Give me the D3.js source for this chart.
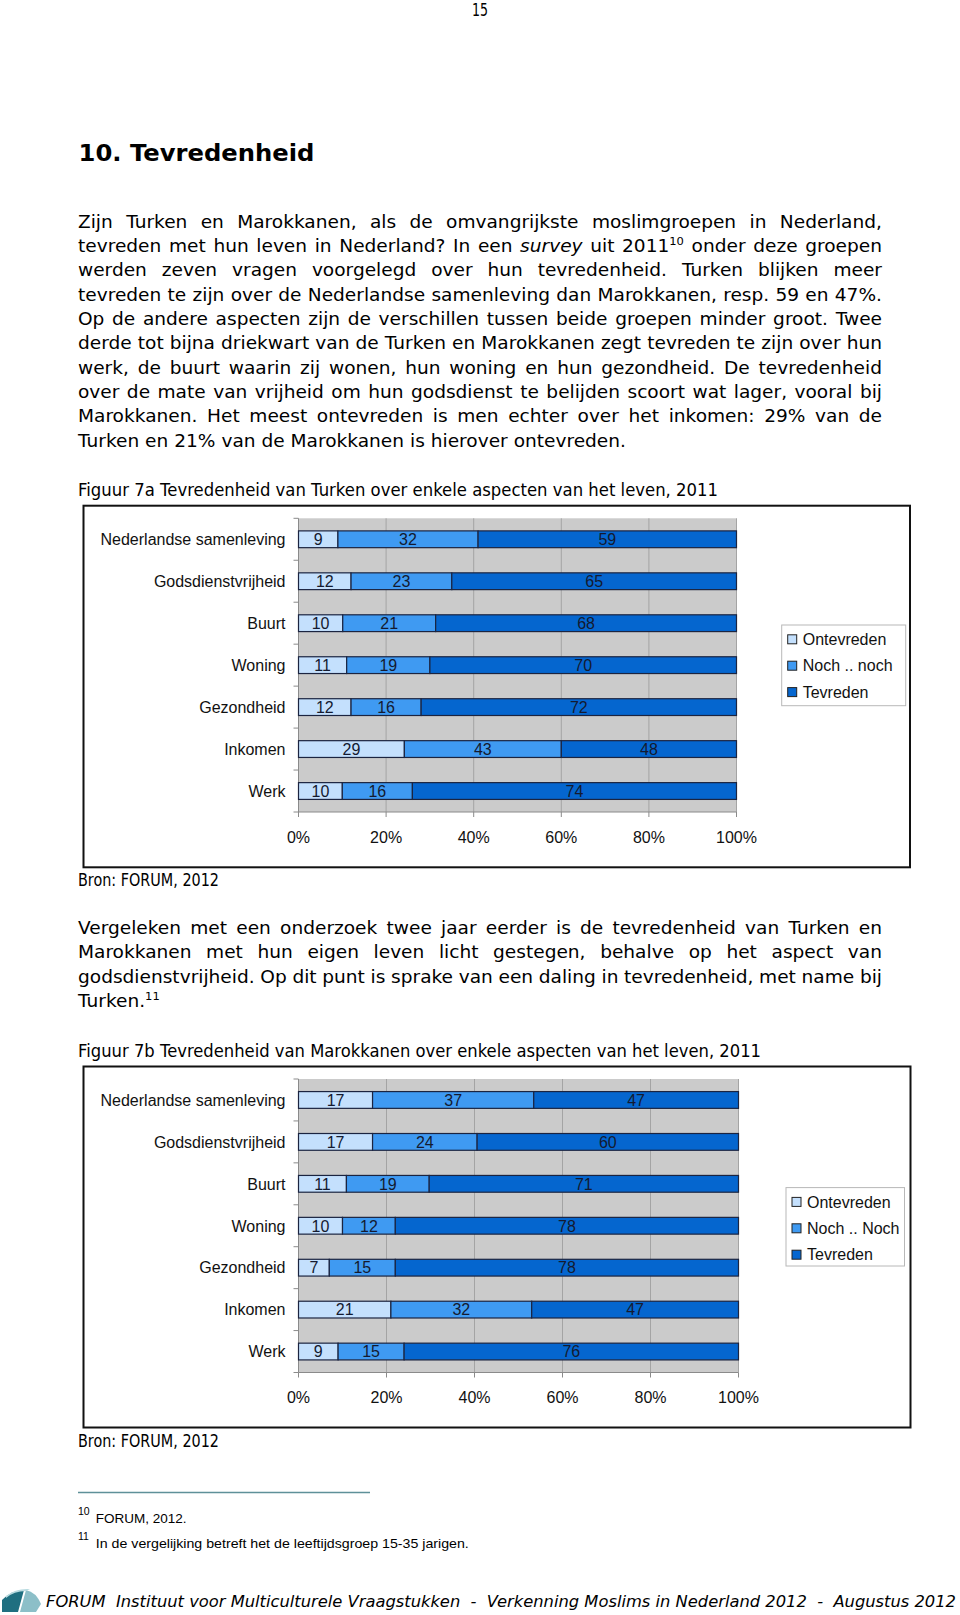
<!DOCTYPE html>
<html><head><meta charset="utf-8">
<script src="https://cdn.jsdelivr.net/npm/d3@7"></script>
<style>body{margin:0;background:#fff} svg{display:block}</style>
</head><body>
<svg id="page" width="960" height="1615"></svg>
<script>
// ---------- DATA ----------
const categories = ["Nederlandse samenleving","Godsdienstvrijheid","Buurt","Woning","Gezondheid","Inkomen","Werk"];
const seriesKeys = ["ontevreden","noch","tevreden"];
const legendNamesA = ["Ontevreden","Noch .. noch","Tevreden"];
const legendNamesB = ["Ontevreden","Noch .. Noch","Tevreden"];
const turkenOntevreden = [9,12,10,11,12,29,10];
const turkenNoch       = [32,23,21,19,16,43,16];
const turkenTevreden   = [59,65,68,70,72,48,74];
const marokOntevreden  = [17,17,11,10,7,21,9];
const marokNoch        = [37,24,19,12,15,32,15];
const marokTevreden    = [47,60,71,78,78,47,76];
const tickValues = [0,0.2,0.4,0.6,0.8,1];
const tickLabels = ["0%","20%","40%","60%","80%","100%"];

const para1 = [
 "Zijn Turken en Marokkanen, als de omvangrijkste moslimgroepen in Nederland,",
 "tevreden met hun leven in Nederland? In een _survey_ uit 2011^10 onder deze groepen",
 "werden zeven vragen voorgelegd over hun tevredenheid. Turken blijken meer",
 "tevreden te zijn over de Nederlandse samenleving dan Marokkanen, resp. 59 en 47%.",
 "Op de andere aspecten zijn de verschillen tussen beide groepen minder groot. Twee",
 "derde tot bijna driekwart van de Turken en Marokkanen zegt tevreden te zijn over hun",
 "werk, de buurt waarin zij wonen, hun woning en hun gezondheid. De tevredenheid",
 "over de mate van vrijheid om hun godsdienst te belijden scoort wat lager, vooral bij",
 "Marokkanen. Het meest ontevreden is men echter over het inkomen: 29% van de",
 "Turken en 21% van de Marokkanen is hierover ontevreden."
];
const para2 = [
 "Vergeleken met een onderzoek twee jaar eerder is de tevredenheid van Turken en",
 "Marokkanen met hun eigen leven licht gestegen, behalve op het aspect van",
 "godsdienstvrijheid. Op dit punt is sprake van een daling in tevredenheid, met name bij",
 "Turken.^11"
];

// ---------- SETUP ----------
const svg = d3.select("#page");
svg.append("rect").attr("width",960).attr("height",1615).attr("fill","#fff");
const bodyFont = "'DejaVu Sans', Verdana, sans-serif";
const chartFont = "'Liberation Sans', Arial, sans-serif";
const BODY_FS = 17.5;

function makeWord(g, w) {
  const t = g.append("text");
  let italic = false;
  if (w.startsWith("_") && w.endsWith("_")) { italic = true; w = w.slice(1,-1); }
  if (italic) t.attr("font-style","italic");
  const parts = w.split("^");
  t.append("tspan").text(parts[0]);
  if (parts.length > 1) {
    t.append("tspan").attr("font-size", BODY_FS*0.62).attr("dy", -7).text(parts[1]);
  }
  return t;
}

function measure(g, s) {
  const t = g.append("text").text(s);
  const w = t.node().getComputedTextLength();
  t.remove();
  return w;
}

const bodyG = svg.append("g").attr("font-family", bodyFont).attr("font-size", BODY_FS).attr("fill","#000");
const spaceW = measure(bodyG, "a a") - measure(bodyG, "aa");
// horizontal scale so the last (natural) line of paragraph 1 matches its width in the reference
const lastWords = para1[para1.length-1].split(" ");
const natW = lastWords.reduce((s,w)=>s+measure(bodyG,w),0) + spaceW*(lastWords.length-1);
const SX = 548 / natW;

function paragraph(lines, x0, x1, yBase, lh) {
  lines.forEach((line, i) => {
    const y = yBase + i*lh;
    const words = line.split(" ");
    const els = words.map(w => makeWord(bodyG, w));
    const widths = els.map(e => e.node().getComputedTextLength()*SX);
    const sum = d3.sum(widths);
    const last = i === lines.length-1;
    const gap = (last || words.length < 2) ? spaceW*SX : (x1 - x0 - sum)/(words.length-1);
    let x = x0;
    els.forEach((e,k) => {
      e.attr("transform", `translate(${x},${y}) scale(${SX},1)`);
      x += widths[k] + gap;
    });
  });
}

function fitLine(text, x, y, width, opts={}) {
  const t = svg.append("text").attr("x", x).attr("y", y)
    .attr("font-family", opts.font || bodyFont)
    .attr("font-size", opts.size || BODY_FS)
    .attr("font-weight", opts.weight || "normal")
    .attr("font-style", opts.style || "normal")
    .attr("fill", opts.fill || "#000")
    .attr("text-anchor", opts.anchor || "start")
    .style("white-space","pre")
    .text(text);
  if (width) t.attr("textLength", width).attr("lengthAdjust","spacingAndGlyphs");
  return t;
}

// ---------- PAGE TEXT ----------
fitLine("15", 480, 16, 16, {size:17, anchor:"middle"});
fitLine("10. Tevredenheid", 78.5, 161, 236, {size:23.5, weight:"bold"});
paragraph(para1, 78, 882, 227.5, 24.37);
fitLine("Figuur 7a Tevredenheid van Turken over enkele aspecten van het leven, 2011", 78, 496, 640);
fitLine("Bron: FORUM, 2012", 78, 886, 141);
paragraph(para2, 78, 882, 934, 24.4);
fitLine("Figuur 7b Tevredenheid van Marokkanen over enkele aspecten van het leven, 2011", 78, 1056.5, 683);
fitLine("Bron: FORUM, 2012", 78, 1446.5, 141);

// ---------- CHARTS ----------
const colors = ["#c4e0fd","#3f9af2","#0566cf"];

function buildRows(a,b,c) {
  return categories.map((cat,i)=>({cat, ontevreden:a[i], noch:b[i], tevreden:c[i]}));
}

function chart(cfg) {
  const g = svg.append("g").attr("font-family", chartFont);
  g.append("rect").attr("x",cfg.box[0]).attr("y",cfg.box[1])
    .attr("width",cfg.box[2]-cfg.box[0]).attr("height",cfg.box[3]-cfg.box[1])
    .attr("fill","#fff").attr("stroke","#111").attr("stroke-width",2);

  const x = d3.scaleLinear().domain([0,1]).range([cfg.plot[0], cfg.plot[2]]);
  const y = d3.scaleBand().domain(categories).range([cfg.plot[1], cfg.plot[3]])
    .paddingInner(0.6).paddingOuter(0.3);

  g.append("rect").attr("x",x(0)).attr("y",cfg.plot[1])
    .attr("width",x(1)-x(0)).attr("height",cfg.plot[3]-cfg.plot[1]).attr("fill","#cbcbcb");
  g.selectAll(".grid").data(tickValues.slice(1)).join("line")
    .attr("x1",d=>x(d)).attr("x2",d=>x(d)).attr("y1",cfg.plot[1]).attr("y2",cfg.plot[3])
    .attr("stroke","#a4a4a4").attr("stroke-width",1);

  // left axis with ticks at category boundaries
  const step = y.step();
  const bounds = d3.range(categories.length+1).map(k => cfg.plot[1] + k*step);
  g.append("line").attr("x1",x(0)).attr("x2",x(0)).attr("y1",cfg.plot[1]).attr("y2",cfg.plot[3])
    .attr("stroke","#8a8a8a");
  g.selectAll(".ytick").data(bounds).join("line")
    .attr("x1",x(0)-5).attr("x2",x(0)).attr("y1",d=>d).attr("y2",d=>d).attr("stroke","#8a8a8a");
  g.append("line").attr("x1",x(0)).attr("x2",x(1)).attr("y1",cfg.plot[3]).attr("y2",cfg.plot[3])
    .attr("stroke","#8a8a8a");
  g.selectAll(".xtick").data(tickValues).join("line")
    .attr("x1",d=>x(d)).attr("x2",d=>x(d)).attr("y1",cfg.plot[3]).attr("y2",cfg.plot[3]+5)
    .attr("stroke","#8a8a8a");

  // category labels
  g.selectAll(".cat").data(categories).join("text")
    .attr("x", x(0)-13).attr("y", d=>y(d)+y.bandwidth()/2).attr("dy","0.36em")
    .attr("text-anchor","end").attr("font-size",16).attr("fill","#111").text(d=>d);

  // x tick labels
  g.selectAll(".xl").data(tickValues).join("text")
    .attr("x",d=>x(d)).attr("y",cfg.plot[3]+25).attr("dy","0.36em")
    .attr("text-anchor","middle").attr("font-size",16).attr("fill","#111")
    .text((d,i)=>tickLabels[i]);

  // stacked bars (100% stacked)
  const stack = d3.stack().keys(seriesKeys).offset(d3.stackOffsetExpand);
  const series = stack(cfg.rows);
  const sg = g.selectAll(".series").data(series).join("g").attr("fill",(d,i)=>colors[i]);
  sg.selectAll("rect").data(d=>d).join("rect")
    .attr("x",d=>x(d[0])).attr("width",d=>x(d[1])-x(d[0]))
    .attr("y",d=>y(d.data.cat)).attr("height",y.bandwidth())
    .attr("stroke","#1b2440").attr("stroke-width",1.2);
  series.forEach(s => {
    g.selectAll(null).data(s).join("text")
      .attr("x",d=>(x(d[0])+x(d[1]))/2).attr("y",d=>y(d.data.cat)+y.bandwidth()/2).attr("dy","0.36em")
      .attr("text-anchor","middle").attr("font-size",16).attr("fill","#141a30")
      .text(d=>d.data[s.key]);
  });

  // legend
  const L = cfg.legend;
  g.append("rect").attr("x",L[0]).attr("y",L[1]).attr("width",L[2]-L[0]).attr("height",L[3]-L[1])
    .attr("fill","#fff").attr("stroke","#b8b8b8");
  const li = g.selectAll(".leg").data(cfg.legendNames).join("g")
    .attr("transform",(d,i)=>`translate(${L[0]+6},${L[1]+14.3+i*26.4})`);
  li.append("rect").attr("x",0).attr("y",-4.5).attr("width",9).attr("height",9)
    .attr("fill",(d,i)=>colors[i]).attr("stroke","#222").attr("stroke-width",1);
  li.append("text").attr("x",15).attr("dy","0.36em").attr("font-size",16).attr("fill","#111").text(d=>d);
}

chart({
  box:[83.5,505.7,910,867.3], plot:[298.5,518.3,736.5,812],
  legend:[781.7,625,905.7,705.7], legendNames:legendNamesA,
  rows: buildRows(turkenOntevreden,turkenNoch,turkenTevreden)
});
chart({
  box:[83.5,1066.5,910.5,1427.5], plot:[298.5,1079,738.5,1372.5],
  legend:[786,1187.6,904.5,1266], legendNames:legendNamesB,
  rows: buildRows(marokOntevreden,marokNoch,marokTevreden)
});

// ---------- FOOTNOTES ----------
svg.append("line").attr("x1",78).attr("x2",370).attr("y1",1492.5).attr("y2",1492.5)
  .attr("stroke","#5e9099").attr("stroke-width",1.5);
fitLine("10", 78, 1515, null, {font:chartFont, size:10.5});
fitLine("FORUM, 2012.", 95.8, 1523, null, {font:chartFont, size:13.5});
fitLine("11", 78, 1540, null, {font:chartFont, size:10.5});
fitLine("In de vergelijking betreft het de leeftijdsgroep 15-35 jarigen.", 95.8, 1548, 373, {font:chartFont, size:13.5});

// ---------- FOOTER ----------
const logo = svg.append("g");
logo.append("path").attr("d","M2,1612 L2,1600 Q12,1590 24,1590 L18,1612 Z").attr("fill","#1f6f80");
logo.append("path").attr("d","M20,1612 L26,1590 Q36,1592 41,1604 L36,1612 Z").attr("fill","#8cbfc8");
logo.append("path").attr("d","M6,1596 Q16,1588 30,1589 L26,1591 Q14,1591 6,1598 Z").attr("fill","#b9dbe0");
fitLine("FORUM  Instituut voor Multiculturele Vraagstukken  -  Verkenning Moslims in Nederland 2012  -  Augustus 2012",
  46, 1607, 910, {size:16, style:"italic"});
</script>
</body></html>
